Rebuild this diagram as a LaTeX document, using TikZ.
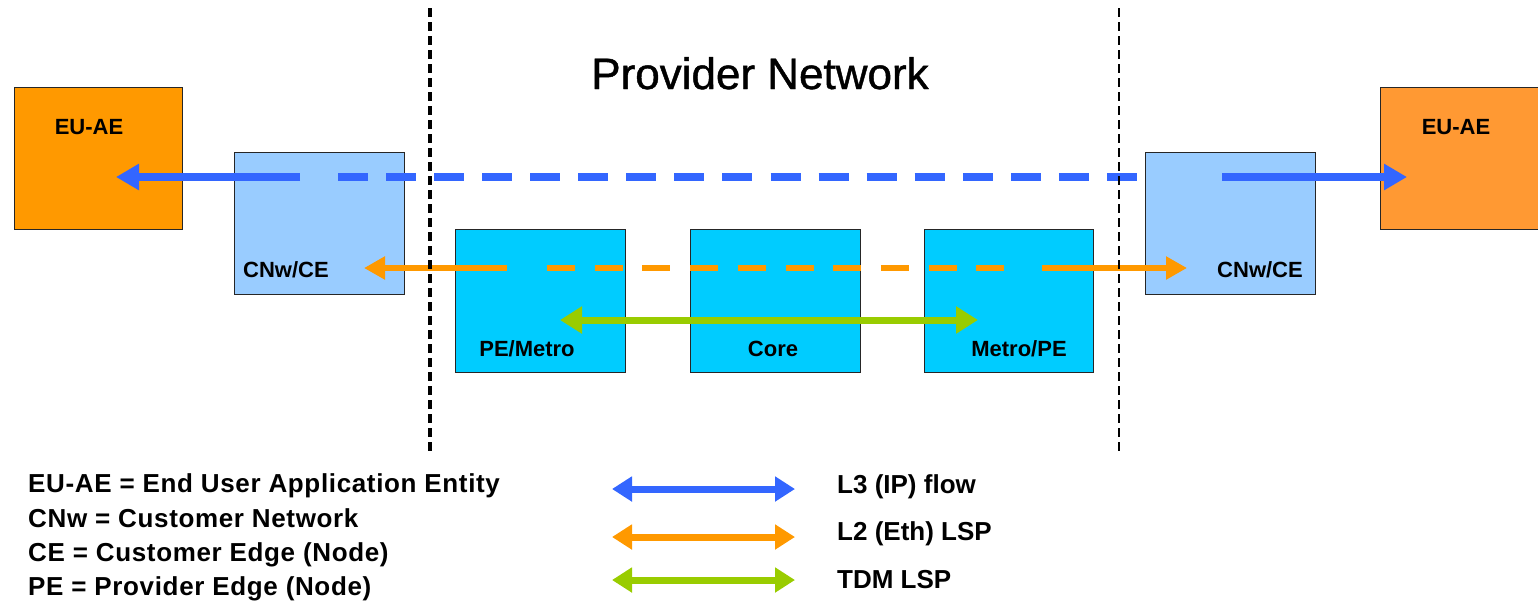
\documentclass[tikz,border=0pt]{standalone}
\usepackage{fontspec}
\setmainfont{Liberation Sans}
\usetikzlibrary{arrows.meta}

\definecolor{euorange}{HTML}{FF9900}
\definecolor{euorangeR}{HTML}{FF9933}
\definecolor{ceblue}{HTML}{99CCFF}
\definecolor{pecyan}{HTML}{00CCFF}
\definecolor{ipblue}{HTML}{3366FF}
\definecolor{ethorange}{HTML}{FF9900}
\definecolor{tdmgreen}{HTML}{99CC00}

\begin{document}
\begin{tikzpicture}[x=1pt,y=-1pt]
\tikzset{
  box/.style={draw=black!85, line width=1.2pt, anchor=north west, inner sep=0pt,
              minimum height=142pt},
  lbl/.style={font=\bfseries\fontsize{22}{24}\selectfont, inner sep=0pt, anchor=base},
  leg/.style={font=\bfseries\fontsize{26}{28}\selectfont\addfontfeature{LetterSpace=2.5},
              inner sep=0pt, anchor=base west},
  legr/.style={font=\bfseries\fontsize{26}{28}\selectfont, inner sep=0pt, anchor=base west},
  iplink/.style={draw=ipblue, line width=7.5pt},
  ethlink/.style={draw=ethorange, line width=6.5pt},
  tdmlink/.style={draw=tdmgreen, line width=7pt},
  iphead/.style={-{Triangle[length=23pt,width=25pt]}},
  ethhead/.style={-{Triangle[length=21pt,width=22pt]}},
  tdmhead/.style={{Triangle[length=22pt,width=26pt]}-{Triangle[length=22pt,width=26pt]}},
  keyhead/.style={{Triangle[length=20pt,width=24pt]}-{Triangle[length=20pt,width=24pt]}},
  border/.style={draw=black, dash pattern=on 9pt off 5pt}
}
\useasboundingbox (0,0) rectangle (1538,606);
\clip (0,0) rectangle (1538,606);

% equipment boxes
\node[box, fill=euorange,  minimum width=168pt] (euL)  at (14,87)   {};
\node[box, fill=ceblue,    minimum width=170pt] (ceL)  at (234,152) {};
\node[box, fill=pecyan,    minimum width=170pt, minimum height=143pt] (peL) at (455,229) {};
\node[box, fill=pecyan,    minimum width=170pt, minimum height=143pt] (core) at (690,229) {};
\node[box, fill=pecyan,    minimum width=169pt, minimum height=143pt] (peR) at (924,229) {};
\node[box, fill=ceblue,    minimum width=170pt] (ceR)  at (1145,152) {};
\node[box, fill=euorangeR, minimum width=175pt] (euR)  at (1380,87)  {};

% box captions
\node[lbl] (euLt)  at (89,134)   {EU-AE};
\node[lbl] (euRt)  at (1456,134) {EU-AE};
\node[lbl] (ceLt)  at (286,277)  {CNw/CE};
\node[lbl] (ceRt)  at (1260,277) {CNw/CE};
\node[lbl] (peLt)  at (527,356)  {PE/Metro};
\node[lbl] (coret) at (773,356)  {Core};
\node[lbl] (peRt)  at (1019,356) {Metro/PE};

\node[font=\fontsize{44}{48}\selectfont\addfontfeature{FakeBold=1}, inner sep=0pt, anchor=base]
  (title) at (760,89) {Provider Network};

% L3 (IP) flow
\coordinate (ipL)  at (116,177);
\coordinate (ipLs) at (300,177);
\coordinate (ipDa) at (338,177);
\coordinate (ipDb) at (1137,177);
\coordinate (ipRs) at (1222,177);
\coordinate (ipR)  at (1407,177);
\draw[iplink, iphead] (ipLs) -- (ipL);
\draw[iplink, dash pattern=on 30pt off 18.06pt] (ipDa) -- (ipDb);
\draw[iplink, iphead] (ipRs) -- (ipR);

% L2 (Eth) LSP
\coordinate (ethL)  at (364,268);
\coordinate (ethLs) at (507,268);
\coordinate (ethDa) at (547,268);
\coordinate (ethDb) at (1004,268);
\coordinate (ethRs) at (1042,268);
\coordinate (ethR)  at (1187,268);
\draw[ethlink, ethhead] (ethLs) -- (ethL);
\draw[ethlink, dash pattern=on 28pt off 19.7pt] (ethDa) -- (ethDb);
\draw[ethlink, ethhead] (ethRs) -- (ethR);

% TDM LSP
\coordinate (tdmL) at (560,320);
\coordinate (tdmR) at (978,320);
\draw[tdmlink, tdmhead] (tdmL) -- (tdmR);

% provider network borders
\coordinate (bLt) at (430,8);  \coordinate (bLb) at (430,451);
\coordinate (bRt) at (1119,8); \coordinate (bRb) at (1119,451);
\draw[border, line width=3.5pt] (bLt) -- (bLb);
\draw[border, line width=2.5pt] (bRt) -- (bRb);

% legend
\node[leg] (k1) at (28,492) {EU-AE = End User Application Entity};
\node[leg] (k2) at (28,527) {CNw = Customer Network};
\node[leg] (k3) at (28,561) {CE = Customer Edge (Node)};
\node[leg] (k4) at (28,595) {PE = Provider Edge (Node)};

\coordinate (l1a) at (612,489); \coordinate (l1b) at (795,489);
\coordinate (l2a) at (612,537); \coordinate (l2b) at (795,537);
\coordinate (l3a) at (612,580); \coordinate (l3b) at (795,580);
\draw[iplink, line width=7pt, keyhead] (l1a) -- (l1b);
\draw[ethlink, line width=7pt, keyhead] (l2a) -- (l2b);
\draw[tdmlink, keyhead] (l3a) -- (l3b);

\node[legr] (t1) at (837,493) {L3 (IP) flow};
\node[legr] (t2) at (837,540) {L2 (Eth) LSP};
\node[legr] (t3) at (837,588) {TDM LSP};
\end{tikzpicture}
\end{document}
